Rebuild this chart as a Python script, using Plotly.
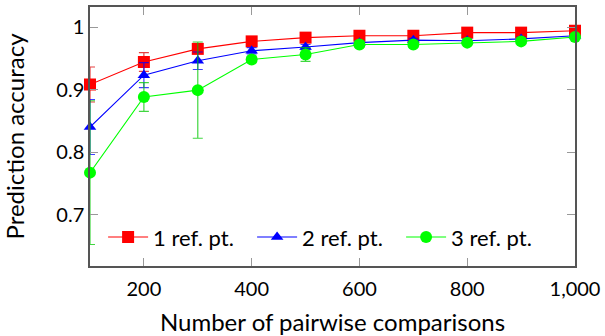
import plotly.graph_objects as go

x = [100, 200, 300, 400, 500, 600, 700, 800, 900, 1000]

acc_1ref = [0.908, 0.944, 0.965, 0.977, 0.983, 0.986, 0.986, 0.991, 0.991, 0.994]
err_1ref = [0.028, 0.015, 0.006, 0.004, 0.003, 0.003, 0.003, 0.002, 0.002, 0.002]

acc_2ref = [0.840, 0.923, 0.946, 0.962, 0.968, 0.975, 0.979, 0.978, 0.981, 0.986]
err_2ref = [0.044, 0.020, 0.014, 0.005, 0.004, 0.003, 0.003, 0.003, 0.003, 0.002]

acc_3ref = [0.767, 0.888, 0.899, 0.948, 0.956, 0.972, 0.972, 0.975, 0.977, 0.984]
err_3ref = [0.115, 0.023, 0.077, 0.005, 0.011, 0.004, 0.004, 0.003, 0.003, 0.003]

names = ["1 ref. pt.", "2 ref. pt.", "3 ref. pt."]
colors = ["#ff0000", "#0000ff", "#00ff00"]
err_colors = ["rgba(220,0,0,0.75)", "rgba(0,0,255,0.75)", "rgba(0,200,0,0.75)"]
symbols = ["square", "triangle-up", "circle"]
sizes = [12, 11, 12]

xtick_vals = [200, 400, 600, 800, 1000]
xtick_text = ["200", "400", "600", "800", "1,000"]
ytick_vals = [0.7, 0.8, 0.9, 1.0]
ytick_text = ["0.7", "0.8", "0.9", "1"]

fig = go.Figure()
for acc, err, name, c, ec, sym, sz in zip(
    [acc_1ref, acc_2ref, acc_3ref], [err_1ref, err_2ref, err_3ref],
    names, colors, err_colors, symbols, sizes):
    fig.add_trace(go.Scatter(
        x=x, y=acc, name=name, mode="lines+markers",
        line=dict(color=c, width=1.1),
        marker=dict(symbol=sym, size=sz, color=c),
        error_y=dict(type="data", array=err, visible=True, color=ec, thickness=1.2, width=5),
        cliponaxis=False,
    ))

font = "Lato, 'DejaVu Sans', sans-serif"
fig.update_layout(
    width=605, height=336,
    margin=dict(l=90, r=30, t=7, b=70),
    paper_bgcolor="white", plot_bgcolor="white",
    font=dict(family=font, size=20, color="black"),
    showlegend=True,
    legend=dict(orientation="h", x=0.027, y=0.111, xanchor="left", yanchor="middle",
                bgcolor="rgba(255,255,255,0)", font=dict(size=22),
                itemwidth=40, tracegroupgap=0, entrywidth=94, entrywidthmode="pixels"),
    xaxis=dict(range=[100, 1000], tickvals=xtick_vals, ticktext=xtick_text,
               ticks="inside", ticklen=8, tickcolor="#999", mirror="ticks",
               showline=True, linecolor="#555", linewidth=1.5, showgrid=False,
               zeroline=False, automargin=False, tickfont=dict(size=20),
               ticklabelstandoff=4,
               title=dict(text="Number of pairwise comparisons", standoff=20)),
    yaxis=dict(range=[0.6176, 1.032], tickvals=ytick_vals, ticktext=ytick_text,
               ticks="inside", ticklen=8, tickcolor="#999", mirror="ticks",
               showline=True, linecolor="#555", linewidth=1.5, showgrid=False,
               zeroline=False, automargin=False, tickfont=dict(size=20),
               title=dict(text="Prediction accuracy", standoff=28)),
)

fig.write_html("out.html", config={"displayModeBar": False},
               post_script="document.body.style.margin='0';")
